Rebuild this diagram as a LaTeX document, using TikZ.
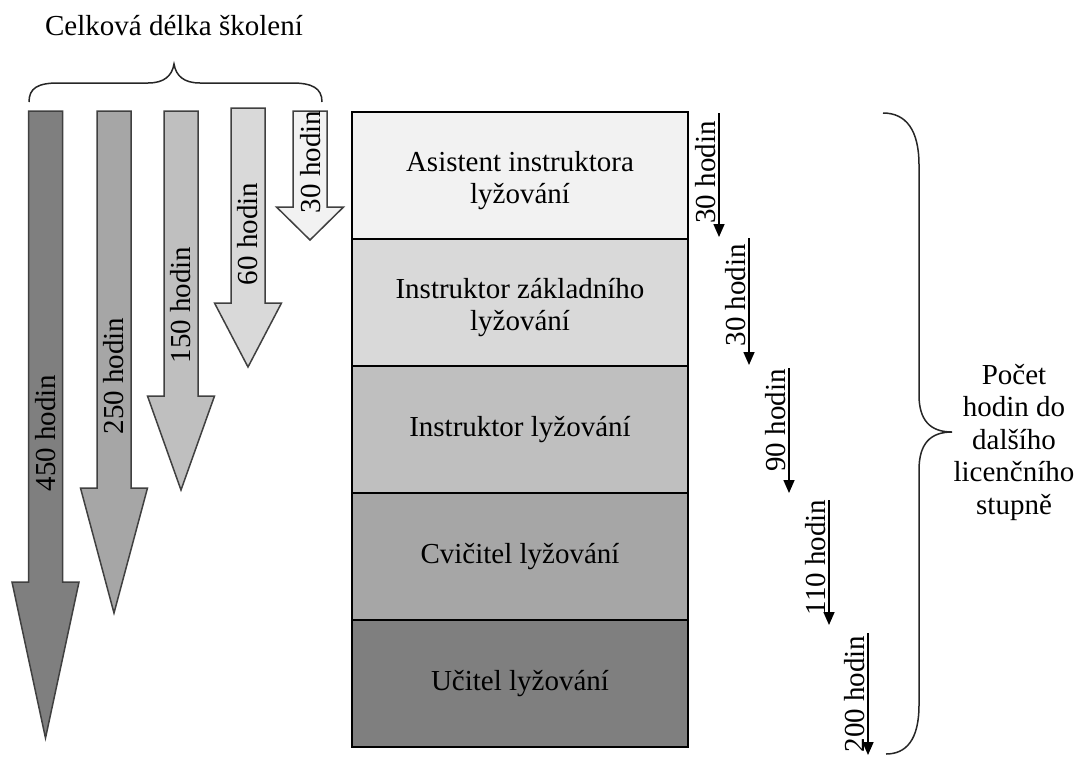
\documentclass[tikz,border=0pt]{standalone}
\usepackage{fontspec}
\setmainfont{Liberation Serif}
\usetikzlibrary{arrows.meta}
\definecolor{gA}{HTML}{7F7F7F}
\definecolor{gB}{HTML}{A6A6A6}
\definecolor{gC}{HTML}{BFBFBF}
\definecolor{gD}{HTML}{D9D9D9}
\definecolor{gE}{HTML}{F2F2F2}
% block arrow: #1 centre x, #2 top, #3 head base, #4 tip, #5 fill
\newcommand{\skiarrow}[5]{%
  \filldraw[bigarrow, fill=#5]
    ({#1-17},#2) -- ({#1+17},#2) -- ({#1+17},#3) -- ({#1+33.5},#3)
    -- (#1,#4) -- ({#1-33.5},#3) -- ({#1-17},#3) -- cycle;}
\begin{document}
\begin{tikzpicture}[x=1pt,y=-1pt,
  every node/.style={font=\fontsize{29}{32.5}\selectfont},
  box/.style={draw=black, line width=1.5pt, minimum width=336pt,
    minimum height=127pt, align=center, inner sep=0pt},
  boxtext/.style={align=center, inner sep=0pt},
  bigarrow/.style={draw=black!75, line width=1.5pt, line join=miter},
  steparrow/.style={line width=1.6pt, -{Triangle[width=11pt,length=13pt]}},
  steplabel/.style={rotate=90, anchor=south, inner sep=2.5pt, pos=0.46},
  brace/.style={line width=1.5pt, draw=black!85}]
\useasboundingbox (0,0) rectangle (1078,756);

% total training length
\node[anchor=base] (title) at (174,35) {Celková délka školení};
\draw[brace] (29,102) .. controls (29,88) and (38,83) .. (58,83) -- (148,83)
  .. controls (164,83) and (172,76) .. (174,64)
  .. controls (176,76) and (184,83) .. (200,83) -- (292,83)
  .. controls (312,83) and (322,88) .. (322,102);

\skiarrow{45.5}{111}{582}{738}{gA}
\skiarrow{114}{111}{488}{613}{gB}
\skiarrow{181}{111}{396}{490}{gC}
\skiarrow{248}{108}{303}{367}{gD}
\skiarrow{310}{111}{207}{240}{gE}
\node[rotate=90] (t450) at (45.5,433) {450 hodin};
\node[rotate=90] (t250) at (114,376) {250 hodin};
\node[rotate=90] (t150) at (181,305) {150 hodin};
\node[rotate=90] (t60) at (248,234) {60 hodin};
\node[rotate=90] (t30) at (310.5,162) {30 hodin};

% licence levels
\node[box, fill=gE] (b1) at (520,175.5) {};
\node[box, fill=gD] (b2) at (520,302.5) {};
\node[box, fill=gC] (b3) at (520,429.5) {Instruktor lyžování};
\node[box, fill=gB] (b4) at (520,556.5) {Cvičitel lyžování};
\node[box, fill=gA] (b5) at (520,683.5) {Učitel lyžování};
\node[boxtext] (b1t) at ([yshift=-5pt]b1.center) {Asistent instruktora\\lyžování};
\node[boxtext] (b2t) at ([yshift=-5pt]b2.center) {Instruktor základního\\lyžování};

% hours between levels
\coordinate (s1a) at (719,113); \coordinate (s1b) at (719,237);
\coordinate (s2a) at (749,238); \coordinate (s2b) at (749,365);
\coordinate (s3a) at (789,368); \coordinate (s3b) at (789,493);
\coordinate (s4a) at (829,500); \coordinate (s4b) at (829,625);
\coordinate (s5a) at (868,633); \coordinate (s5b) at (868,755);
\draw[steparrow] (s1a) -- node[steplabel, pos=0.48] {30 hodin} (s1b);
\draw[steparrow] (s2a) -- node[steplabel, pos=0.45] {30 hodin} (s2b);
\draw[steparrow] (s3a) -- node[steplabel, pos=0.42] {90 hodin} (s3b);
\draw[steparrow] (s4a) -- node[steplabel, pos=0.46] {110 hodin} (s4b);
\draw[steparrow] (s5a) -- node[steplabel, pos=0.5] {200 hodin} (s5b);

% hours to next licence level
\draw[brace] (883,113) .. controls (906,113) and (919,130) .. (919,165)
  -- (919,395) .. controls (919,420) and (930,432) .. (952,432)
  .. controls (930,432) and (919,444) .. (919,470)
  -- (919,705) .. controls (919,740) and (906,754) .. (886,754);
\node[align=center] (next) at (1014,442) {Počet\\hodin do\\dalšího\\licenčního\\stupně};
\end{tikzpicture}
\end{document}
